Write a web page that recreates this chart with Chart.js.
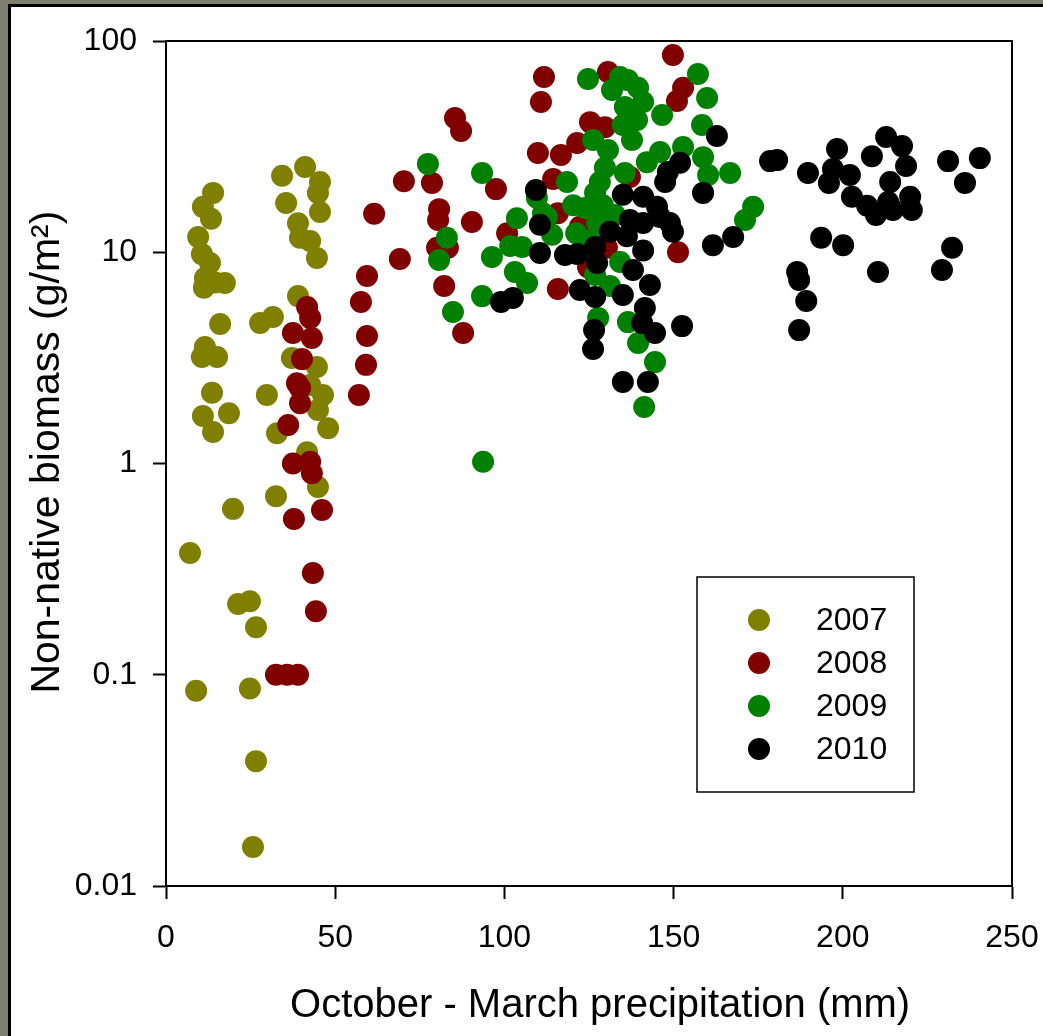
<!DOCTYPE html>
<html>
<head>
<meta charset="utf-8">
<script src="https://cdn.jsdelivr.net/npm/chart.js@4.4.1/dist/chart.umd.min.js"></script>
<style>
  html, body { margin:0; padding:0; background:#7f7f71; overflow:hidden; }
  #panel { position:absolute; left:8px; top:4px; width:1100px; height:1100px; background:#fff; border:3px solid #000; }
  #wrap { position:absolute; left:0; top:0; width:1043px; height:1036px; }
</style>
</head>
<body>
<div id="panel"></div>
<div id="wrap"><canvas id="grafico" width="1043" height="1036"></canvas></div>
<script>
// datos: precipitacion oct-mar (mm) y biomasa no nativa (g/m2)
const anios = ['2007', '2008', '2009', '2010'];
const colores = ['#808000', '#800000', '#008000', '#000000'];
const xTicks = [0, 50, 100, 150, 200, 250];
const yTicks = [0.01, 0.1, 1, 10, 100];

const precip2007 = [7.1, 8.9, 13.9, 10.9, 13.3, 9.5, 10.6, 13.0, 11.5, 14.5, 17.4, 11.2, 16.0, 11.5, 10.6, 15.1, 13.6, 10.9, 13.9, 18.6, 19.8, 21.3, 24.8, 26.6, 24.8, 26.6, 25.7, 27.8, 31.6, 29.8, 32.8, 32.5, 34.3, 41.1, 45.5, 44.9, 35.5, 45.5, 39.0, 39.6, 42.6, 44.6, 39.0, 44.6, 46.4, 44.9, 47.9, 41.7, 44.9, 37.2, 42.6];
const biomasa2007 = [0.377, 0.084, 19.1, 16.4, 14.4, 11.8, 9.8, 8.9, 7.55, 7.2, 7.15, 6.8, 4.57, 3.56, 3.19, 3.19, 2.16, 1.68, 1.41, 1.73, 0.61, 0.216, 0.223, 0.168, 0.086, 0.039, 0.0153, 4.62, 4.94, 2.11, 1.39, 0.70, 23.0, 25.3, 21.5, 19.1, 17.1, 15.5, 13.7, 11.7, 11.3, 9.4, 6.2, 2.86, 2.11, 1.79, 1.47, 1.13, 0.774, 3.16, 2.35];

const precip2008 = [32.5, 35.8, 39.0, 37.8, 46.1, 43.4, 44.3, 37.5, 42.6, 43.1, 36.1, 39.6, 38.7, 40.2, 37.5, 43.1, 41.7, 42.6, 39.6, 57.0, 59.1, 59.4, 57.6, 59.4, 61.5, 70.3, 69.1, 78.6, 80.7, 80.4, 80.1, 83.3, 82.2, 87.8, 85.4, 87.2, 90.4, 97.5, 100.8, 111.7, 110.8, 109.9, 116.7, 114.4, 115.8, 115.8, 130.6, 149.8, 152.8, 151.0, 125.3, 129.7, 121.5, 137.1, 151.3, 122.3, 130.3, 124.7];
const biomasa2008 = [0.1, 0.1, 0.1, 0.546, 0.602, 0.303, 0.2, 1.0, 1.02, 0.9, 1.52, 1.93, 2.4, 3.12, 4.15, 3.93, 5.5, 4.89, 2.28, 2.11, 2.93, 4.01, 5.81, 7.72, 15.2, 21.7, 9.29, 21.3, 16.0, 14.2, 10.5, 10.5, 6.92, 4.15, 43.2, 37.5, 13.9, 19.9, 12.3, 67.5, 51.4, 29.5, 28.9, 22.2, 15.3, 6.7, 71.3, 85.9, 60.1, 52.0, 41.3, 39.1, 32.9, 22.7, 10.0, 13.2, 10.5, 8.5];

const precip2009 = [77.4, 93.4, 83.0, 80.7, 96.3, 93.4, 84.8, 93.7, 103.7, 101.7, 105.2, 103.1, 106.7, 109.6, 111.4, 114.1, 124.7, 157.2, 159.9, 134.2, 136.5, 131.8, 139.5, 141.0, 135.6, 135.0, 139.2, 146.6, 137.7, 158.4, 126.2, 130.6, 146.0, 152.8, 158.7, 160.2, 166.7, 173.5, 171.1, 118.5, 120.3, 129.7, 128.2, 135.6, 126.8, 129.1, 121.2, 127.4, 112.6, 134.2, 126.8, 131.2, 127.7, 136.5, 139.5, 144.5, 141.3, 142.1, 123.8, 132.7, 125.3];
const biomasa2009 = [26.2, 23.7, 11.7, 9.19, 9.5, 6.2, 5.21, 1.02, 14.5, 10.7, 10.6, 8.06, 7.15, 18.1, 15.3, 12.1, 66.1, 69.8, 53.7, 67.5, 65.3, 58.6, 60.1, 51.4, 48.7, 40.0, 42.3, 44.6, 34.0, 40.0, 34.0, 30.5, 29.8, 31.5, 28.2, 23.2, 23.7, 16.4, 14.2, 21.5, 16.7, 25.1, 21.5, 23.7, 19.1, 16.7, 12.3, 13.75, 14.7, 9.0, 7.8, 6.92, 4.89, 4.67, 3.72, 3.02, 1.85, 26.7, 16.2, 15.0, 11.4];

const precip2010 = [109.3, 110.5, 110.5, 99.0, 102.5, 117.9, 121.5, 122.3, 126.8, 127.4, 126.8, 126.5, 126.2, 131.2, 135.0, 135.0, 136.2, 137.1, 138.0, 141.0, 141.0, 141.5, 140.7, 142.4, 143.0, 144.5, 145.1, 146.0, 147.5, 148.3, 148.9, 149.8, 151.9, 152.5, 158.7, 161.6, 162.8, 167.6, 178.5, 180.6, 189.7, 198.3, 197.1, 195.9, 202.1, 208.6, 202.7, 207.2, 209.8, 212.8, 217.5, 218.7, 214.0, 213.4, 214.8, 219.9, 220.4, 231.1, 240.5, 236.1, 193.6, 200.1, 210.4, 232.3, 229.3, 186.5, 187.1, 189.2, 187.1, 135.0, 141.0];
const biomasa2010 = [19.7, 13.5, 9.92, 5.81, 6.07, 9.7, 9.81, 6.63, 6.14, 8.9, 10.6, 4.28, 3.48, 12.5, 18.7, 2.43, 11.9, 14.2, 8.24, 18.3, 10.2, 5.45, 4.62, 2.43, 7.0, 4.15, 16.4, 14.7, 21.5, 24.0, 13.75, 12.5, 26.5, 4.47, 19.1, 10.8, 35.5, 11.8, 27.0, 27.3, 23.7, 30.8, 24.8, 21.3, 23.2, 28.5, 18.3, 16.6, 15.0, 35.1, 31.8, 25.6, 21.5, 17.3, 15.85, 18.3, 15.85, 27.0, 27.9, 21.3, 11.7, 10.8, 8.06, 10.5, 8.24, 8.06, 7.39, 5.88, 4.28, 6.28, 13.75];

const precips = [precip2007, precip2008, precip2009, precip2010];
const biomasas = [biomasa2007, biomasa2008, biomasa2009, biomasa2010];

const fuente = "Arial, 'Liberation Sans', sans-serif";

function juntar(xs, ys) {
  return xs.map((x, i) => ({ x: x, y: ys[i] }));
}

const datasets = anios.map((a, i) => ({
  label: a,
  data: juntar(precips[i], biomasas[i]),
  backgroundColor: colores[i],
  borderColor: colores[i],
  borderWidth: 0,
  pointRadius: 11,
  pointHoverRadius: 11,
  order: anios.length - i   // 2010 encima
}));

// caja alrededor del area del grafico
const marco = {
  id: 'marco',
  afterDraw(chart) {
    const { ctx, chartArea: a } = chart;
    ctx.save();
    ctx.strokeStyle = '#000';
    ctx.lineWidth = 2;
    ctx.strokeRect(a.left, a.top, a.right - a.left, a.bottom - a.top);
    ctx.restore();
  }
};

// leyenda dentro del grafico
const leyenda = {
  id: 'leyenda',
  afterDraw(chart) {
    const ctx = chart.ctx;
    const x0 = 697, y0 = 577, w = 217, h = 215;
    ctx.save();
    ctx.fillStyle = '#fff';
    ctx.fillRect(x0, y0, w, h);
    ctx.strokeStyle = '#000';
    ctx.lineWidth = 1.5;
    ctx.strokeRect(x0, y0, w, h);
    chart.data.datasets.forEach((ds, i) => {
      const y = y0 + 43 + i * 43;
      ctx.beginPath();
      ctx.arc(x0 + 62, y, 11, 0, Math.PI * 2);
      ctx.fillStyle = ds.backgroundColor;
      ctx.fill();
      ctx.fillStyle = '#000';
      ctx.font = '32px ' + fuente;
      ctx.textBaseline = 'middle';
      ctx.textAlign = 'left';
      ctx.fillText(ds.label, x0 + 119, y + 1);
    });
    ctx.restore();
  }
};

new Chart(document.getElementById('grafico'), {
  type: 'scatter',
  data: { datasets: datasets },
  options: {
    responsive: false,
    animation: false,
    layout: { padding: { top: 41, right: 31, left: 0, bottom: 0 } },
    plugins: {
      legend: { display: false },
      tooltip: { enabled: false }
    },
    scales: {
      x: {
        type: 'linear',
        min: 0,
        max: 250,
        afterBuildTicks: s => { s.ticks = xTicks.map(v => ({ value: v })); },
        afterFit: s => { s.height = 150; s.paddingLeft = 0; s.paddingRight = 0; },
        ticks: {
          color: '#000',
          font: { family: fuente, size: 32 },
          padding: 20,
          maxRotation: 0,
          autoSkip: false
        },
        grid: { drawOnChartArea: false, tickLength: 13, tickColor: '#000', tickWidth: 2 },
        border: { color: '#000', width: 2 },
        title: {
          display: true,
          text: '  October - March precipitation (mm)',
          color: '#000',
          font: { family: fuente, size: 40 },
          padding: { top: 0, bottom: 6 }
        }
      },
      y: {
        type: 'logarithmic',
        min: 0.01,
        max: 100,
        afterBuildTicks: s => { s.ticks = yTicks.map(v => ({ value: v })); },
        afterFit: s => { s.width = 166; s.paddingTop = 0; s.paddingBottom = 0; },
        ticks: {
          color: '#000',
          font: { family: fuente, size: 32 },
          padding: 16,
          autoSkip: false,
          callback: v => String(v)
        },
        grid: { drawOnChartArea: false, tickLength: 13, tickColor: '#000', tickWidth: 2 },
        border: { color: '#000', width: 2 },
        title: {
          display: true,
          text: '  Non-native biomass (g/m\u00b2)',
          color: '#000',
          font: { family: fuente, size: 41 },
          padding: { top: 23, bottom: 0 }
        }
      }
    }
  },
  plugins: [marco, leyenda]
});
</script>
</body>
</html>
